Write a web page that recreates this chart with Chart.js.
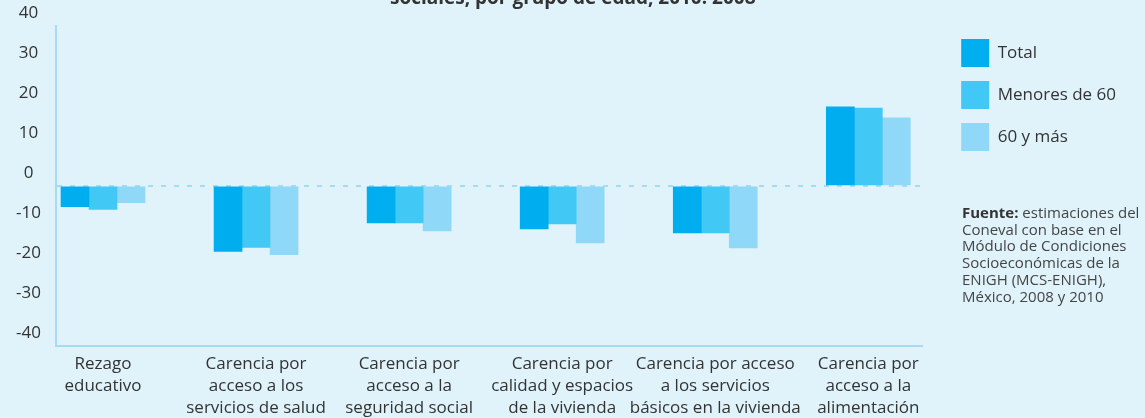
<!DOCTYPE html>
<html lang="es">
<head>
<meta charset="utf-8">
<title>Carencias sociales por grupo de edad</title>
<script src="https://cdn.jsdelivr.net/npm/chart.js@4.4.1/dist/chart.umd.min.js"></script>
<style>
  html, body { margin: 0; padding: 0; background: #e0f3fb; }
  #wrap { position: relative; width: 1145px; height: 418px; overflow: hidden; font-family: "Open Sans", "Noto Sans", sans-serif; color: #333; }
  #titulo { position: absolute; top: -13px; left: 390px; font-weight: bold; font-size: 19px; line-height: 20px; white-space: nowrap; }
  #fuente { position: absolute; left: 962px; top: 204px; font-size: 15px; line-height: 16.7px; color: #444; }
  #fuente b { color: #333; }
</style>
</head>
<body>
<div id="wrap">
  <canvas id="grafica"></canvas>
  <div id="titulo">sociales, por grupo de edad, 2010: 2008</div>
  <div id="fuente"><b>Fuente:</b> estimaciones del<br>Coneval con base en el<br>Módulo de Condiciones<br>Socioeconómicas de la<br>ENIGH (MCS-ENIGH),<br>México, 2008 y 2010</div>
</div>
<script>
// categorias (una linea por elemento)
var categorias = [
  ['Rezago', 'educativo'],
  ['Carencia por', 'acceso a los', 'servicios de salud'],
  ['Carencia por', 'acceso a la', 'seguridad social'],
  ['Carencia por', 'calidad y espacios', 'de la vivienda'],
  ['Carencia por acceso', 'a los servicios', 'básicos en la vivienda'],
  ['Carencia por', 'acceso a la', 'alimentación']
];
var nombresSeries = ['Total', 'Menores de 60', '60 y más'];
var serieTotal = [-5.2, -16.4, -9.3, -10.8, -11.8, 19.8];
var serieMenores60 = [-5.9, -15.4, -9.3, -9.5, -11.8, 19.5];
var serie60yMas = [-4.2, -17.2, -11.3, -14.3, -15.5, 17.0];
var ticksY = [-40, -30, -20, -10, 0, 10, 20, 30, 40];

var colores = ['#00aeef', '#42c8f4', '#8fd8f7'];
var colorLinea = '#a6dbf4';
var fuente = { family: '"Open Sans", "Noto Sans", sans-serif', size: 17, lineHeight: 1.3 };

function puntos(valores) {
  return valores.map(function (v, i) { return { x: i, y: v }; });
}

var canvas = document.getElementById('grafica');
var chart = new Chart(canvas, {
  type: 'bar',
  data: {
    datasets: [
      { label: nombresSeries[0], data: puntos(serieTotal), backgroundColor: colores[0] },
      { label: nombresSeries[1], data: puntos(serieMenores60), backgroundColor: colores[1] },
      { label: nombresSeries[2], data: puntos(serie60yMas), backgroundColor: colores[2] }
    ]
  },
  options: {
    responsive: true,
    maintainAspectRatio: false,
    animation: false,
    devicePixelRatio: 1,
    barThickness: 28,
    layout: { padding: { top: 25, left: 0, right: 19, bottom: -8 } },
    plugins: {
      tooltip: { enabled: false },
      title: { display: false },
      legend: {
        position: 'right',
        align: 'start',
        labels: {
          boxWidth: 28,
          boxHeight: 28,
          padding: 14,
          color: '#333',
          font: fuente
        }
      }
    },
    scales: {
      x: {
        type: 'linear',
        bounds: 'data',
        offset: false,
        min: -0.307,
        max: 5.352,
        afterBuildTicks: function (scale) {
          scale.ticks = categorias.map(function (c, i) { return { value: i }; });
        },
        ticks: {
          autoSkip: false,
          maxRotation: 0,
          minRotation: 0,
          padding: 7,
          color: '#333',
          font: fuente,
          callback: function (value) { return categorias[value]; }
        },
        grid: { color: 'transparent', drawTicks: false, offset: false },
        border: { display: true, color: colorLinea, width: 2, dash: [5, 8] }
      },
      y: {
        min: ticksY[0],
        max: ticksY[ticksY.length - 1],
        afterFit: function (scale) { scale.width = 56; },
        ticks: {
          stepSize: 10,
          crossAlign: 'center',
          padding: 15,
          labelOffset: -13,
          color: '#333',
          font: fuente
        },
        grid: {
          drawTicks: false,
          lineWidth: 2,
          color: function (ctx) { return ctx.tick && ctx.tick.value === 0 ? colorLinea : 'transparent'; }
        },
        border: { display: true, color: colorLinea, width: 2, dash: [5, 8] }
      },
      hueco: {
        position: 'right',
        display: true,
        afterFit: function (scale) { scale.width = 25; },
        ticks: { display: false },
        grid: { display: false, drawTicks: false },
        border: { display: false }
      }
    }
  }
});
</script>
</body>
</html>
